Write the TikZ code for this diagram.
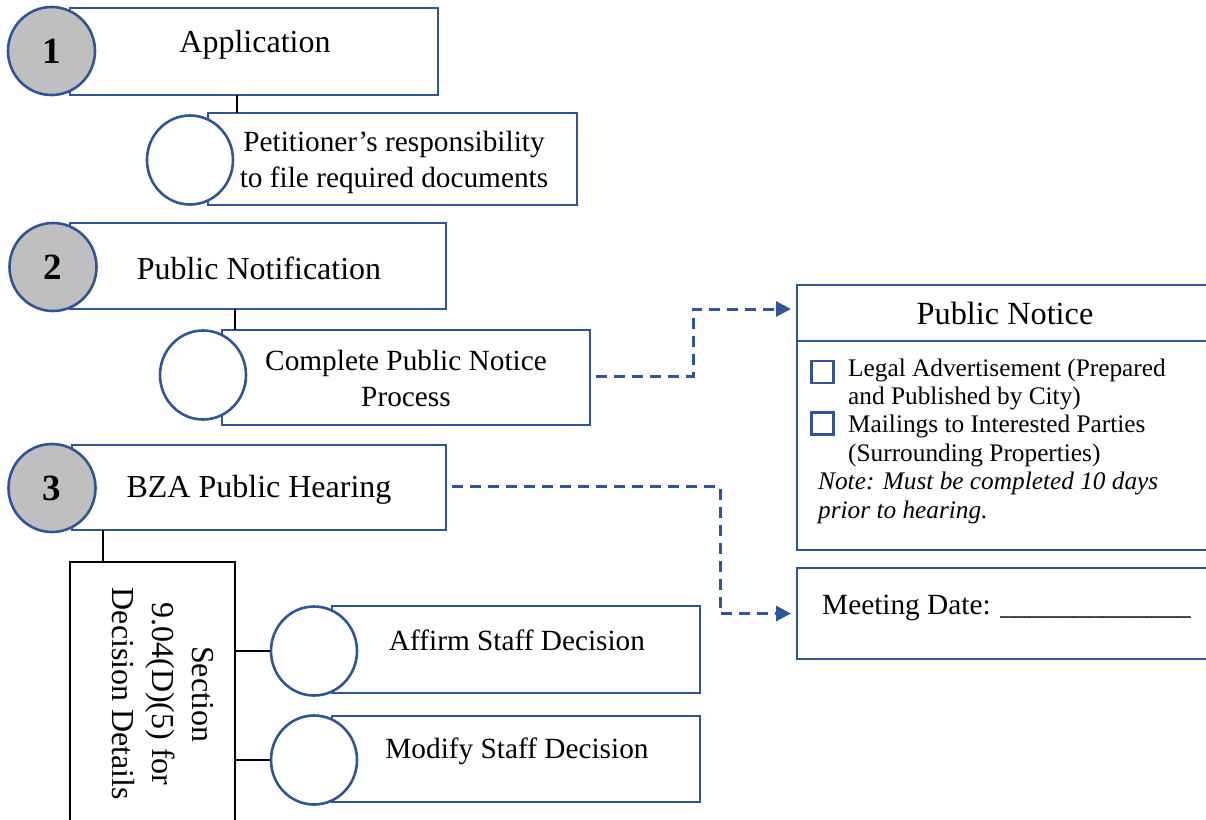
\documentclass[tikz,border=0pt]{standalone}
\usepackage{fontspec}
\setmainfont{Liberation Serif}
\usetikzlibrary{shapes.geometric,arrows.meta}
\definecolor{bblue}{RGB}{47,85,151}
\definecolor{cgray}{RGB}{191,191,191}
\begin{document}
\begin{tikzpicture}[x=1pt,y=-1pt,
  box/.style={draw=bblue,line width=2.9pt,fill=white,rectangle,inner sep=0pt,outer sep=0pt},
  numc/.style={draw=bblue,line width=2.6pt,fill=cgray,ellipse,inner sep=0pt,minimum width=87pt,minimum height=88pt,font=\fontsize{37}{40}\selectfont\bfseries},
  subc/.style={draw=bblue,line width=2.6pt,fill=white,ellipse,inner sep=0pt,minimum width=86pt,minimum height=89pt},
  big/.style={font=\fontsize{32}{38}\selectfont},
  mid/.style={font=\fontsize{29.3}{36.5}\selectfont},
  small/.style={font=\fontsize{25.3}{28.4}\selectfont,anchor=base west,inner sep=0pt},
  link/.style={draw=black,line width=1.5pt},
  dlink/.style={draw=bblue,line width=3pt,dash pattern=on 11pt off 7pt,-{Triangle[length=15pt,width=15pt]}},
  chk/.style={draw=bblue,line width=2.4pt,minimum size=22pt,inner sep=0pt}
]
\useasboundingbox (0,0) rectangle (1206,819);
\clip (0,0) rectangle (1206,819);

% Step 1
\node[box,minimum width=368pt,minimum height=87pt] (b1) at (254,51.5) {};
\node[big] (t1) at (255,45) {Application};
\node[numc] (n1) at (51.5,51) {1};
\node[box,minimum width=369pt,minimum height=92pt] (s1) at (392.5,159) {};
\node[mid,align=center] (s1t) at (394,162.5) {Petitioner’s responsibility\\to file required documents};
\node[subc] (c1) at (190,160) {};
\draw[link] ([xshift=-17pt]b1.south) -- ([xshift=-17pt]b1.south |- s1.north);

% Step 2
\node[box,minimum width=376pt,minimum height=86pt] (b2) at (258,266) {};
\node[big] (t2) at (259,268.5) {Public Notification};
\node[numc] (n2) at (53,267) {2};
\node[box,minimum width=368pt,minimum height=95pt] (s2) at (406,377.5) {};
\node[mid,align=center] (s2t) at (406,378.5) {Complete Public Notice\\Process};
\node[subc] (c2) at (203,375) {};
\draw[link] ([xshift=-23pt]b2.south) -- ([xshift=-23pt]b2.south |- s2.north);

% Step 3
\node[box,minimum width=374pt,minimum height=85pt] (b3) at (259,487.5) {};
\node[big] (t3) at (259,490) {BZA Public Hearing};
\node[numc] (n3) at (52,488) {3};
\node[draw=black,line width=2pt,fill=white,minimum width=165pt,minimum height=280pt,inner sep=0pt] (sec) at (152.5,702) {};
\node[rotate=-90,align=center,font=\fontsize{32}{40}\selectfont] (sect) at (163,694) {Section\\9.04(D)(5) for\\Decision Details};
\draw[link] (b3.south -| 103,0) -- (sec.north -| 103,0);

\node[box,minimum width=368pt,minimum height=87pt] (a1) at (516,649.5) {};
\node[mid] (at) at (517,640) {Affirm Staff Decision};
\node[subc] (ac) at (314,651) {};
\node[box,minimum width=368pt,minimum height=86pt] (m1) at (516,759) {};
\node[mid] (mtx) at (517,751) {Modify Staff Decision};
\node[subc] (mc) at (314,760) {};
\draw[link] (sec.east |- ac.west) -- (ac.west);
\draw[link] (sec.east |- mc.west) -- (mc.west);

% Public Notice panel
\node[box,minimum width=433pt,minimum height=265pt] (pn) at (1013.5,417.5) {};
\draw[draw=bblue,line width=2.9pt] ([yshift=-56pt]pn.north west) coordinate (sepl) -- ([yshift=-56pt]pn.north east);
\node[font=\fontsize{32.3}{38}\selectfont] (pnt) at (1005,313) {Public Notice};
\node[chk] (cb1) at (822.5,372) {};
\node[small] (i1a) at (848,376) {Legal Advertisement (Prepared};
\node[small] (i1b) at (848,404.4) {and Published by City)};
\node[chk] (cb2) at (822.5,423.5) {};
\node[small] (i2a) at (848,432.8) {Mailings to Interested Parties};
\node[small] (i2b) at (848,461.2) {(Surrounding Properties)};
\node[small,font=\fontsize{25.3}{28.4}\selectfont\itshape] (nta) at (818,489.6) {Note: Must be completed 10 days};
\node[small,font=\fontsize{25.3}{28.4}\selectfont\itshape] (ntb) at (818,518) {prior to hearing.};

% Meeting date panel
\node[box,minimum width=433pt,minimum height=91pt] (mt) at (1013.5,613.5) {};
\node[mid,anchor=west,inner sep=0pt] (mtt) at (822,608) {Meeting Date: \_\_\_\_\_\_\_\_\_\_\_\_\_};

% Dashed connectors
\draw[dlink,shorten >=6pt] ([xshift=6pt,yshift=1.5pt]s2.east) -- ++(97,0) |- ([yshift=-24pt]pn.north west);
\draw[dlink,shorten >=6pt] ([xshift=6pt,yshift=1pt]b3.east) -- ++(268,0) |- (mt.west);
\end{tikzpicture}
\end{document}
